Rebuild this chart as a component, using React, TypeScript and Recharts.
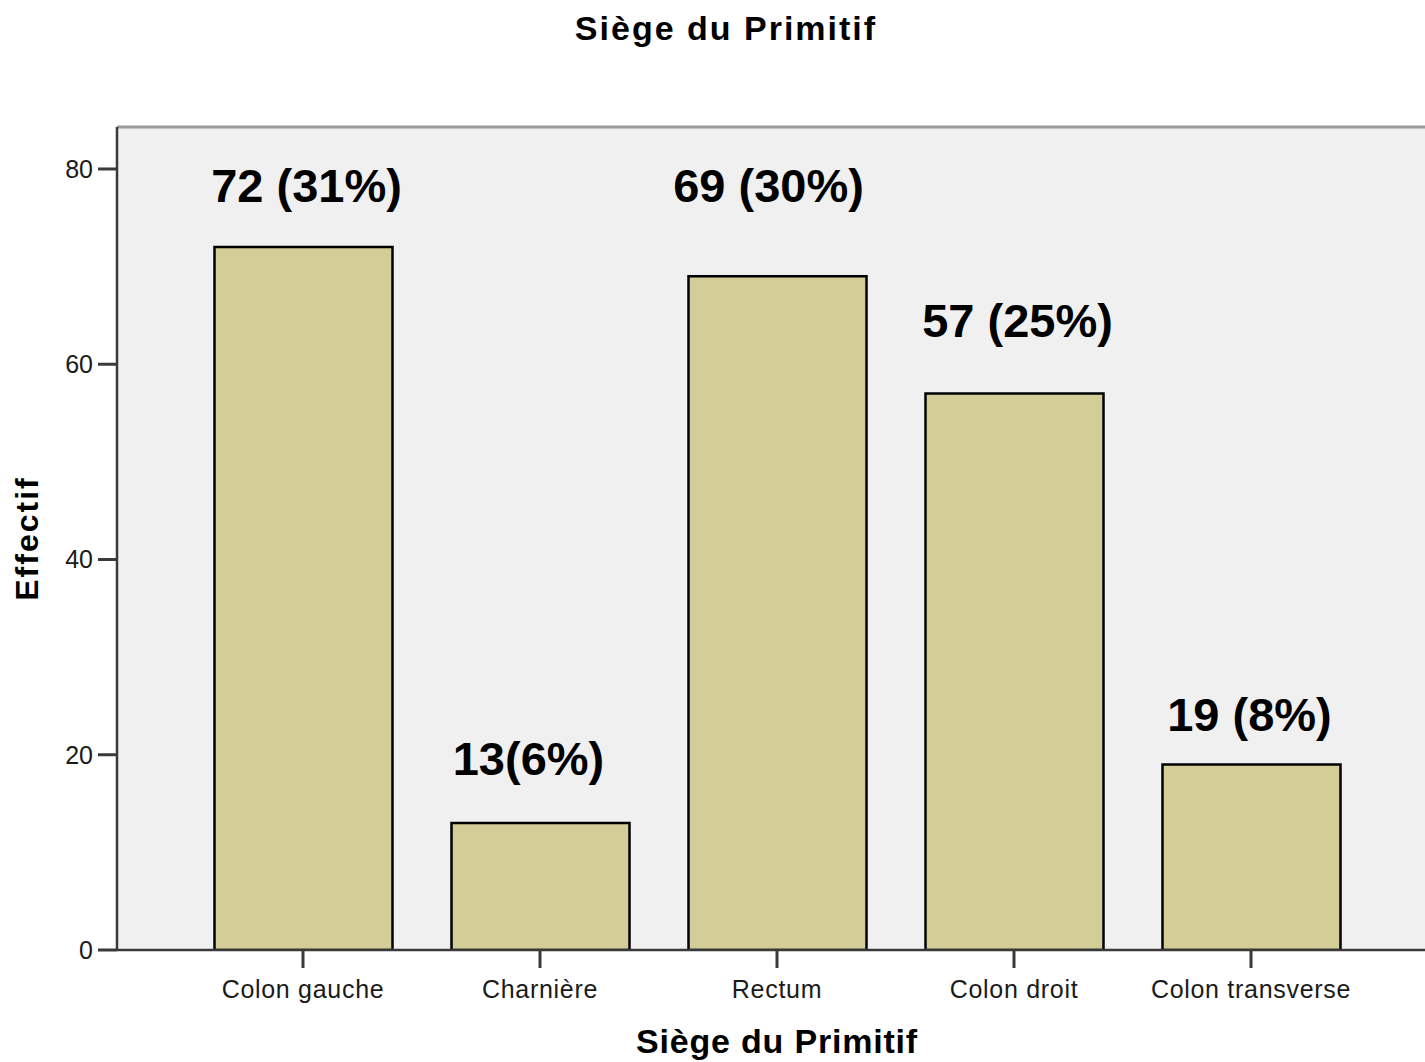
import React from 'react';
import { BarChart, Bar, XAxis, YAxis, CartesianGrid, ReferenceLine, LabelList } from 'recharts';

const categories = ['Colon gauche', 'Charnière', 'Rectum', 'Colon droit', 'Colon transverse'];
const counts = [72, 13, 69, 57, 19];
const barLabels = ['72 (31%)', '13(6%)', '69 (30%)', '57 (25%)', '19 (8%)'];
const yTicks = [0, 20, 40, 60, 80];
const Y_MAX = 84.3;

const data = categories.map((c, i) => ({ name: c, value: counts[i], label: barLabels[i] }));

// label placement tweaks (dx from bar centre, gap above bar top to baseline)
const LABEL_DX = [3, -12, -9, 3, -2];
const LABEL_GAP = [45, 48, 74, 56.5, 33.5];

const FONT = '"Liberation Sans", Arial, Helvetica, sans-serif';

const renderBarLabel = (props: any) => {
  const { x, y, width, index } = props;
  return (
    <text
      x={Number(x) + Number(width) / 2 + LABEL_DX[index]}
      y={Number(y) - LABEL_GAP[index]}
      textAnchor="middle"
      fontFamily={FONT}
      fontWeight="bold"
      fontSize={47}
      fill="#000"
    >
      {barLabels[index]}
    </text>
  );
};

const renderYLabel = (props: any) => {
  const vb = props.viewBox || {};
  const cx = vb.x + 38;
  const cy = vb.y + vb.height / 2;
  return (
    <text
      x={cx}
      y={cy}
      transform={`rotate(-90, ${cx}, ${cy})`}
      textAnchor="middle"
      fontFamily={FONT}
      fontWeight="bold"
      fontSize={32}
      letterSpacing={2}
      fill="#000"
    >
      Effectif
    </text>
  );
};

const renderXLabel = (props: any) => {
  const vb = props.viewBox || {};
  const cx = 777;
  return (
    <text
      x={cx}
      y={vb.y + 103}
      textAnchor="middle"
      fontFamily={FONT}
      fontWeight="bold"
      fontSize={34}
      letterSpacing={0.8}
      fill="#000"
    >
      Siège du Primitif
    </text>
  );
};

export default function App() {
  return (
    <div
      style={{
        position: 'absolute',
        left: 0,
        top: 0,
        width: 1425,
        height: 1062,
        overflow: 'hidden',
        background: '#fff',
      }}
    >
      <div
        style={{
          position: 'absolute',
          left: 0,
          top: 0,
          width: 1452,
          height: 60,
        }}
      >
        <svg width={1452} height={60}>
          <text
            x={726}
            y={40}
            textAnchor="middle"
            fontFamily={FONT}
            fontWeight="bold"
            fontSize={34}
            letterSpacing={2}
            fill="#000"
          >
            Siège du Primitif
          </text>
        </svg>
      </div>
      <div style={{ position: 'absolute', left: 0, top: 0 }}>
        <BarChart
          width={1445}
          height={1062}
          data={data}
          margin={{ top: 127, right: 8, bottom: 0, left: 0 }}
          barSize={178}
        >
          <CartesianGrid fill="#f0f0f0" horizontal={false} vertical={false} />
          <ReferenceLine y={Y_MAX} stroke="#9a9a9a" strokeWidth={3} ifOverflow="visible" />
          <XAxis
            dataKey="name"
            height={112}
            padding={{ left: 67.5, right: 67.5 }}
            tickSize={18}
            tickMargin={12}
            axisLine={{ stroke: '#3a3a3a', strokeWidth: 2.5 }}
            tickLine={{ stroke: '#3a3a3a', strokeWidth: 3 }}
            tick={{ fontFamily: FONT, fontSize: 25, letterSpacing: 0.7, fill: '#1a1a1a' }}
            interval={0}
            label={{ content: renderXLabel }}
          />
          <YAxis
            width={117}
            domain={[0, Y_MAX]}
            ticks={yTicks}
            tickSize={19}
            tickMargin={5}
            axisLine={{ stroke: '#3a3a3a', strokeWidth: 2.5 }}
            tickLine={{ stroke: '#3a3a3a', strokeWidth: 3 }}
            tick={{ fontFamily: FONT, fontSize: 25, fill: '#1a1a1a' }}
            allowDataOverflow
            label={{ content: renderYLabel }}
          />
          <Bar
            dataKey="value"
            fill="#d3ce97"
            stroke="#000"
            strokeWidth={2.5}
            isAnimationActive={false}
          >
            <LabelList dataKey="label" content={renderBarLabel} />
          </Bar>
        </BarChart>
      </div>
    </div>
  );
}
